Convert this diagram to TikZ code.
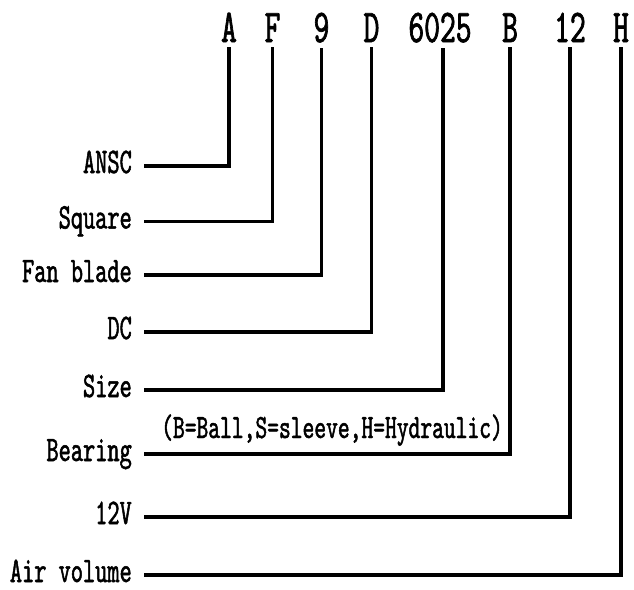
\documentclass[tikz,border=0pt]{standalone}
\usepackage{fontspec}
\usetikzlibrary{calc}
\newfontfamily\codettA[Extension=.otf,FakeStretch=0.64,FakeBold=1.4]{lmmono10-regular}
\newfontfamily\labttA[Extension=.otf,FakeStretch=0.645,FakeBold=1.4]{lmmono10-regular}
\newfontfamily\notettA[Extension=.otf,FakeStretch=0.66,FakeBold=1.4]{lmmono10-regular}
\tikzset{
  code/.style={inner sep=0pt, anchor=base, font=\codettA\fontsize{47}{47}\selectfont},
  lab/.style={inner sep=0pt, anchor=base east, font=\labttA\fontsize{36}{36}\selectfont},
  note/.style={inner sep=0pt, anchor=base west, font=\notettA\fontsize{34}{34}\selectfont},
  conn/.style={line width=3.2pt, shorten >=5pt}
}
\begin{document}
\begin{tikzpicture}[x=1pt,y=-1pt]
\useasboundingbox (0,0) rectangle (634,589);
% code letters
\node[code] (tA) at (229,42) {A};
\node[code] (tF) at (272.5,42) {F};
\node[code] (t9) at (321.5,42) {9};
\node[code] (tD) at (371.5,42) {D};
\node[code] (tS) at (440,42) {6025};
\node[code] (tB) at (510,42) {B};
\node[code] (t12) at (570,42) {12};
\node[code] (tH) at (621,42) {H};
% labels
\node[lab] (l1) at (132,173) {ANSC};
\node[lab] (l2) at (132,228.5) {Square};
\node[lab] (l3) at (132,282) {Fan blade};
\node[lab] (l4) at (132,339) {DC};
\node[lab] (l5) at (132,397) {Size};
\node[lab] (l6) at (132,461) {Bearing};
\node[lab] (l7) at (132,524) {12V};
\node[lab] (l8) at (132,582) {Air volume};
\node[note] (n) at (161,438) {(B=Ball,S=sleeve,H=Hydraulic)};
% connectors
\draw[conn] ($(l1.base east)+(12,-7)$) -| (tA.south);
\draw[conn] ($(l2.base east)+(12,-7)$) -| (tF.south);
\draw[conn] ($(l3.base east)+(12,-7)$) -| (t9.south);
\draw[conn] ($(l4.base east)+(12,-7)$) -| (tD.south);
\draw[conn] ($(l5.base east)+(12,-7)$) -| ($(tS.south)+(3,0)$);
\draw[conn] ($(l6.base east)+(12,-7)$) -| (tB.south);
\draw[conn] ($(l7.base east)+(12,-7)$) -| (t12.south);
\draw[conn] ($(l8.base east)+(12,-7)$) -| (tH.south);
\end{tikzpicture}
\end{document}
